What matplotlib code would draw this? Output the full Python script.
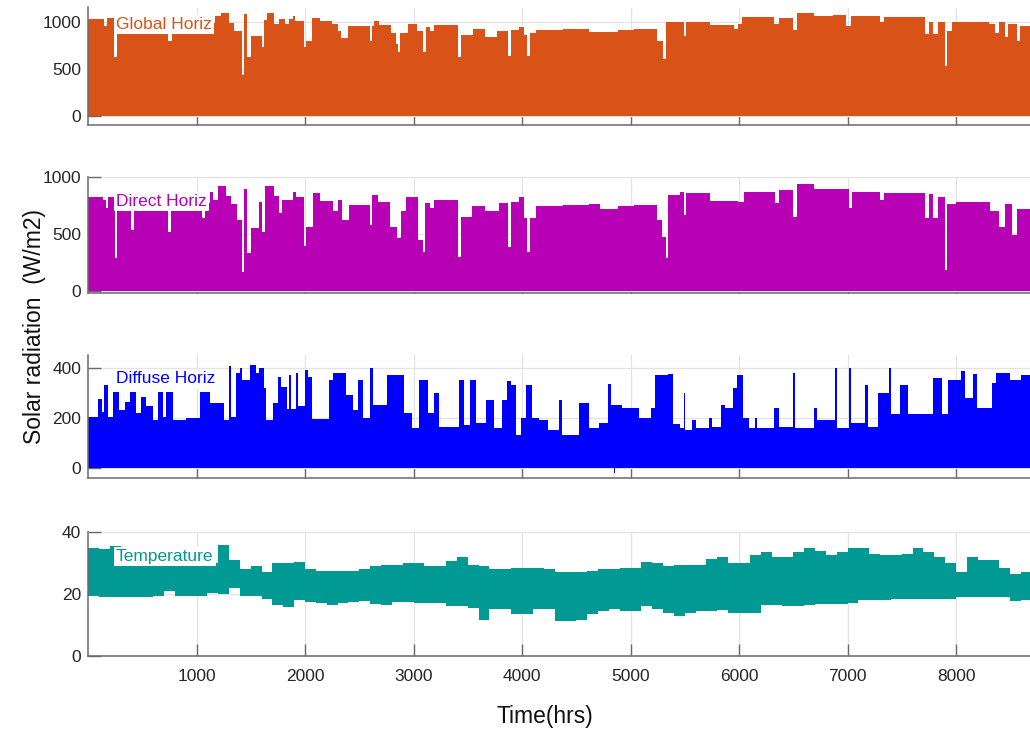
import numpy as np
import matplotlib
matplotlib.use("Agg")
import matplotlib.pyplot as plt

plt.rcParams['font.family'] = ['Liberation Sans', 'DejaVu Sans']

# ---------------- data ----------------
global_hours = [0,150,175,240,265,330,740,770,1170,1230,1300,1350,1420,1440,1465,1505,1600,1625,1650,1715,
                1760,1820,1850,1890,1910,1990,2010,2065,2140,2250,2300,2330,2400,2600,2620,2640,2680,2790,2840,2860,
                2880,2950,3030,3090,3115,3150,3190,3410,3440,3550,3660,3770,3870,3895,3970,4020,4050,4070,4130,4380,
                4620,4880,5030,5240,5300,5330,5490,5510,5730,5950,5990,6030,6320,6370,6500,6530,6690,6870,6990,7030,
                7300,7340,7710,7750,7790,7830,7900,7920,7960,8300,8360,8400,8450,8480,8560,8590,8700,8760]
global_peak = [1030,955,1040,620,1040,990,800,990,1060,1090,990,900,430,1085,620,850,726,1020,1090,970,
               1030,980,1030,1060,1010,726,800,1040,1010,970,900,830,950,800,950,1010,960,880,760,675,
               880,980,900,675,940,900,960,620,860,920,840,900,640,910,940,860,640,880,910,920,
               890,910,920,800,600,1000,850,1000,960,920,980,1050,980,1040,910,1095,1060,1070,950,1060,
               1000,1050,870,1000,870,1000,535,900,1000,980,880,1000,840,980,800,950,900,900]

direct_hours = [0,140,165,180,250,270,400,425,740,765,1050,1075,1120,1150,1200,1270,1320,1370,1415,1440,
                1465,1500,1580,1605,1630,1715,1760,1785,1890,1920,1990,2010,2070,2140,2260,2300,2340,2410,2595,2620,
                2670,2780,2850,2885,2930,3040,3090,3110,3150,3190,3410,3440,3540,3660,3790,3870,3895,3970,4020,4050,
                4070,4130,4380,4620,4720,4880,5030,5240,5290,5330,5350,5460,5490,5510,5730,5990,6050,6330,6370,6500,
                6530,6690,7010,7040,7300,7340,7710,7750,7790,7830,7900,7920,8000,8310,8400,8450,8520,8560,8700,8760]
direct_peak = [822,796,726,826,290,820,533,800,516,800,640,770,866,800,919,830,760,620,170,890,
               330,550,780,515,920,830,680,800,866,820,390,560,855,790,700,800,620,750,577,840,
               780,560,460,700,820,450,340,770,730,800,300,650,740,700,770,385,780,820,640,340,
               640,740,750,760,720,740,750,620,470,290,840,870,665,860,790,780,870,770,880,650,
               935,890,725,870,800,860,640,850,640,820,184,760,780,700,560,760,490,720,650,650]

diffuse_hours = [0,90,130,150,180,230,290,340,385,445,490,535,600,645,690,720,785,905,1030,1120,
                 1250,1295,1320,1365,1400,1420,1490,1550,1580,1620,1645,1705,1750,1780,1830,1855,1875,1915,1940,2000,
                 2030,2060,2220,2260,2380,2440,2485,2530,2595,2625,2760,2915,2990,3050,3130,3190,3235,3420,3465,3525,
                 3575,3665,3745,3820,3865,3895,3945,3990,4035,4095,4160,4235,4340,4370,4525,4620,4710,4795,4820,4925,
                 5080,5185,5230,5350,5390,5460,5490,5505,5570,5600,5720,5750,5830,5875,5945,5980,6040,6090,6150,6170,
                 6320,6365,6500,6520,6690,6720,6885,6905,7010,7030,7160,7190,7285,7380,7400,7480,7560,7790,7870,7930,
                 8050,8080,8160,8190,8330,8370,8500,8600,8700,8760]
diffuse_peak = [203,276,223,330,203,303,230,263,303,218,283,245,190,303,203,303,190,200,303,260,
                190,405,203,377,400,350,412,377,400,320,190,258,362,323,233,370,233,377,245,390,
                362,197,350,380,290,230,350,200,397,250,370,220,158,350,220,300,165,350,170,350,
                180,270,158,270,345,330,130,200,330,200,190,150,270,130,260,158,180,336,250,240,
                200,240,370,376,175,158,300,150,190,160,200,165,250,240,318,370,200,160,200,160,
                240,165,380,160,240,190,397,160,397,180,330,165,300,397,215,330,215,360,215,350,
                385,280,375,240,340,380,350,370,330,330]
diffuse_low_hours = [0, 4845, 4860, 8760]
diffuse_low = [0, -20, 0, 0]

temp_hours = list(range(0, 8800, 100))
temp_upper = [35,34.5,35.5,30,31,32,33,33,33,32,
              31,30,36,31,28,29,27,30,30,30.5,
              28,27.5,27.5,27.5,27.5,28,29,29.5,29.5,30,
              30,29,29,30.7,32,29.5,29,28,28,28.5,
              28.5,28.5,28,27,27,27.2,27.5,28,28,28.3,
              28.5,30.5,30,29,29.5,29.4,29.5,31.5,32,30,
              30,32.5,33.5,32,32,33.5,35,34,32.5,33.5,
              35,35,33,32.5,32.5,33,35,33.5,32,30,
              27,32,31,31,28.5,26.5,27,26.5]
temp_lower = [19.2,19,19,18.9,18.9,19,19.5,21,19.5,19.2,
              19.5,20.2,20,22,19.5,19.5,18.5,16.4,15.8,18,
              17.5,17,16.5,17,17.5,17.8,16.7,16.5,17.5,17.5,
              17,17,17,16,16,15.5,11.6,15,15,13.6,
              13.6,15,15,11.3,11.3,11.5,13.5,14.5,15,14.5,
              14.5,16,15,14,13,13.8,14.5,14.5,14.8,14,
              14,14,16.4,16.4,16.2,16,16.5,16.6,16.6,16.8,
              17,18,18,18,18.5,18.5,18.5,18.5,18.5,18.5,
              19,19,19,19,19,17.8,18,18]

labels = ["Global Horiz", "Direct Horiz", "Diffuse Horiz", "Temperature"]
colors = ["#D95319", "#B800B4", "#0000FF", "#009994"]
ylims = [(-100, 1150), (-20, 1000), (-40, 450), (0, 40)]
yticks = [[0, 500, 1000], [0, 500, 1000], [0, 200, 400], [0, 20, 40]]
xticks = [1000, 2000, 3000, 4000, 5000, 6000, 7000, 8000]

# ---------------- layout ----------------
W, H = 1030, 729
fig = plt.figure(figsize=(W / 100, H / 100), dpi=100)
left_px, width_px = 88, 950.5
panels_px = [(7.5, 125.4), (176.7, 293.3), (355, 478), (532.3, 655.7)]
label_y = [0.854, 0.786, 0.805, 0.802]

axes = []
for i, (top, bot) in enumerate(panels_px):
    ax = fig.add_axes([left_px / W, 1 - bot / H, width_px / W, (bot - top) / H])
    axes.append(ax)

series = [(global_hours, global_peak), (direct_hours, direct_peak), (diffuse_hours, diffuse_peak)]
for i in range(3):
    hrs, vals = series[i]
    axes[i].fill_between(hrs, 0, vals, step='post', color=colors[i], linewidth=0, zorder=2)
axes[2].fill_between(diffuse_low_hours, diffuse_low, 0, step='post', color=colors[2], linewidth=0, zorder=2)

th = temp_hours + [8760]
tu = temp_upper + [temp_upper[-1]]
tl = temp_lower + [temp_lower[-1]]
axes[3].fill_between(th, tl, tu, step='post', color=colors[3], linewidth=0, zorder=2)

for i, ax in enumerate(axes):
    ax.set_xlim(0, 8760)
    ax.set_ylim(*ylims[i])
    ax.set_yticks(yticks[i])
    ax.set_xticks(xticks)
    ax.grid(True, color='#e3e3e3', linewidth=0.9)
    ax.set_axisbelow(True)
    for s in ['top', 'right']:
        ax.spines[s].set_visible(False)
    for s in ['left', 'bottom']:
        ax.spines[s].set_color('#6a6a6a')
        ax.spines[s].set_linewidth(1.1)
        ax.spines[s].set_zorder(3)
    ax.tick_params(axis='both', direction='in', length=9, width=1.0, color='#6a6a6a',
                   labelsize=12.5, labelcolor='#262626')
    ax.tick_params(axis='y', pad=5.0)
    ax.tick_params(axis='x', pad=9.5)
    if i < 3:
        ax.tick_params(axis='x', labelbottom=False)
    ax.text(0.0295, label_y[i], labels[i], transform=ax.transAxes, ha='left', va='center',
            fontsize=12.5, color=colors[i], zorder=5,
            bbox=dict(facecolor='white', edgecolor='none', pad=1.5))

fig.text(35 / W, 1 - 326 / H, "Solar radiation  (W/m2)", rotation=90, ha='center', va='center',
         fontsize=16.5, color='#111111')
fig.text(545 / W, 1 - 717 / H, "Time(hrs)", ha='center', va='center', fontsize=16.5, color='#111111')

fig.savefig("out.png", dpi=100)
